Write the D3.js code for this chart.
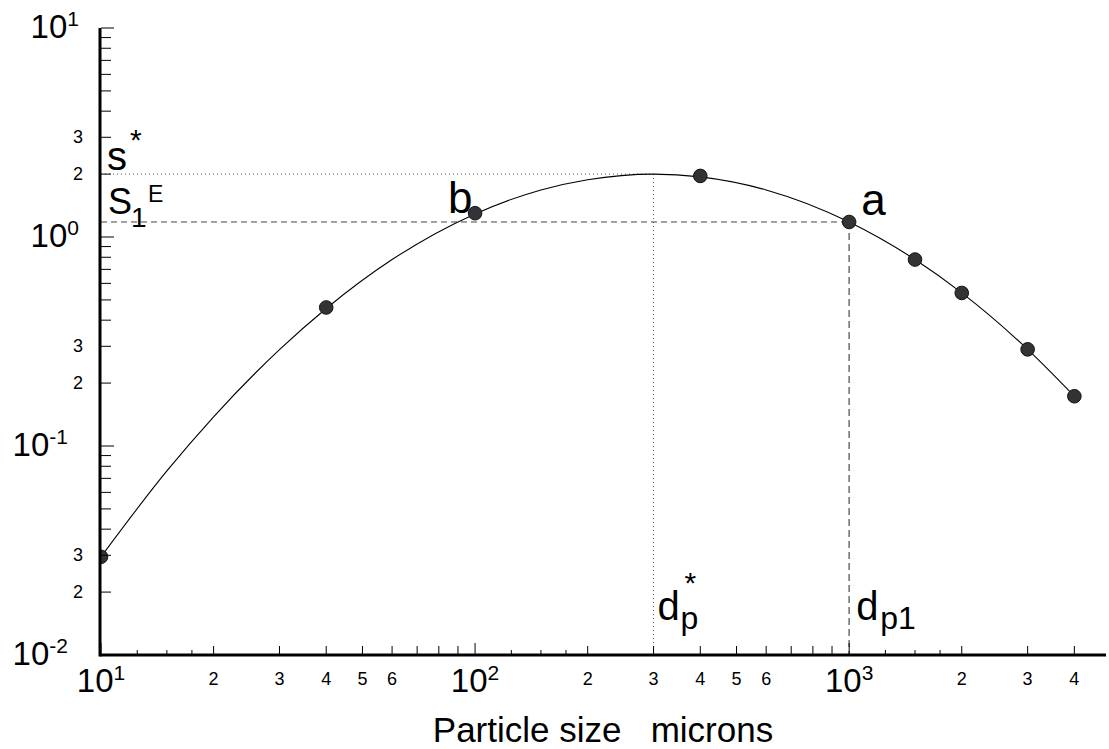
<!DOCTYPE html>
<html>
<head>
<meta charset="utf-8">
<script src="https://cdn.jsdelivr.net/npm/d3@7"></script>
<style>
  body { margin: 0; background: #fff; }
  svg { font-family: "Liberation Sans", Arial, sans-serif; }
</style>
</head>
<body>
<div id="chart"></div>
<script>
// measured points (particle size in microns, value)
var sizes = [10, 40, 100, 400, 1000, 1500, 2000, 3000, 4000];
var measured = [0.0295, 0.46, 1.30, 1.96, 1.18, 0.78, 0.54, 0.29, 0.173];

// fitted curve
var curveSizes = [10, 15, 20, 30, 40, 60, 100, 150, 200, 300, 400, 600, 1000, 1500, 2000, 3000, 4000];
var curveValues = [0.0295, 0.076, 0.138, 0.289, 0.455, 0.78, 1.29, 1.68, 1.88, 2.0, 1.94, 1.68, 1.18, 0.78, 0.54, 0.29, 0.173];

// reference levels
var sStar = 2.0, s1E = 1.18, dpStar = 300, dp1 = 1000;

// ticks
var xMajor = [10, 100, 1000];
var xMinor = [20, 30, 40, 50, 60, 70, 80, 90, 200, 300, 400, 500, 600, 700, 800, 900, 2000, 3000, 4000];
var xSmall = [12.5, 15, 17.5, 125, 150, 175, 1250, 1500, 1750];
var xMinorLabels = [20, 30, 40, 50, 60, 200, 300, 400, 500, 600, 2000, 3000, 4000];
var yMajor = [0.01, 0.1, 1, 10];
var yMinor = [];
[0.01, 0.1, 1].forEach(function(d) { for (var k = 2; k <= 9; k++) yMinor.push(d * k); });
var yMinorLabels = [0.02, 0.03, 0.2, 0.3, 2, 3];

var W = 1109, H = 749;
var svg = d3.select("#chart").append("svg").attr("width", W).attr("height", H);

var x = d3.scaleLog().domain([10, 4860]).range([101, 1106]);
var y = d3.scaleLog().domain([0.01, 10]).range([655, 28]);

function lead(v) { return Math.round(v / Math.pow(10, Math.floor(Math.log10(v) + 1e-9))); }
function expo(v) { return Math.round(Math.log10(v)); }

svg.append("defs").append("clipPath").attr("id", "plot")
  .append("rect").attr("x", 101).attr("y", 0).attr("width", W - 101).attr("height", 654);

var g = svg.append("g");

// reference lines
g.append("line")
  .attr("x1", x(10)).attr("x2", x(dpStar)).attr("y1", y(sStar)).attr("y2", y(sStar))
  .attr("stroke", "#555").attr("stroke-width", 1).attr("stroke-dasharray", "1,3");
g.append("line")
  .attr("x1", x(dpStar)).attr("x2", x(dpStar)).attr("y1", y(sStar)).attr("y2", y(0.01))
  .attr("stroke", "#555").attr("stroke-width", 1).attr("stroke-dasharray", "1,3");
g.append("line")
  .attr("x1", x(10)).attr("x2", x(dp1)).attr("y1", y(s1E)).attr("y2", y(s1E))
  .attr("stroke", "#444").attr("stroke-width", 1).attr("stroke-dasharray", "6,4");
g.append("line")
  .attr("x1", x(dp1)).attr("x2", x(dp1)).attr("y1", y(s1E)).attr("y2", y(0.01))
  .attr("stroke", "#777").attr("stroke-width", 1.6).attr("stroke-dasharray", "7,4");

// curve
var line = d3.line()
  .x(function(d) { return x(d[0]); })
  .y(function(d) { return y(d[1]); })
  .curve(d3.curveMonotoneX);
g.append("path")
  .datum(d3.zip(curveSizes, curveValues))
  .attr("d", line)
  .attr("fill", "none").attr("stroke", "#000").attr("stroke-width", 1.1);

// markers
g.append("g").attr("clip-path", "url(#plot)")
  .selectAll("circle")
  .data(d3.zip(sizes, measured))
  .enter().append("circle")
  .attr("cx", function(d) { return x(d[0]); })
  .attr("cy", function(d) { return y(d[1]); })
  .attr("r", 6.8)
  .attr("fill", "#333").attr("stroke", "#111").attr("stroke-width", 1);

// x axis ticks
var ax = svg.append("g");
function xTicks(vals, len) {
  ax.selectAll(null).data(vals).enter().append("line")
    .attr("x1", function(d) { return x(d); }).attr("x2", function(d) { return x(d); })
    .attr("y1", y(0.01)).attr("y2", y(0.01) - len)
    .attr("stroke", "#000").attr("stroke-width", 1);
}
xTicks(xMajor, 12); xTicks(xMinor, 9); xTicks(xSmall, 5);

ax.selectAll(null).data(xMinorLabels).enter().append("text")
  .attr("x", function(d) { return x(d); }).attr("y", 685)
  .attr("text-anchor", "middle").attr("font-size", 18)
  .text(function(d) { return lead(d); });

var xl = ax.selectAll(null).data(xMajor).enter().append("text")
  .attr("x", function(d) { return x(d); }).attr("y", 692)
  .attr("text-anchor", "middle").attr("font-size", 33);
xl.append("tspan").text("10");
xl.append("tspan").attr("font-size", 21).attr("dy", -12).text(function(d) { return expo(d); });

// y axis ticks
function yTicks(vals, len) {
  ax.selectAll(null).data(vals).enter().append("line")
    .attr("y1", function(d) { return y(d); }).attr("y2", function(d) { return y(d); })
    .attr("x1", x(10)).attr("x2", x(10) + len)
    .attr("stroke", "#000").attr("stroke-width", 1);
}
yTicks(yMajor, 13); yTicks(yMinor, 10);

ax.selectAll(null).data(yMinorLabels).enter().append("text")
  .attr("x", 83).attr("y", function(d) { return y(d) + 6; })
  .attr("text-anchor", "end").attr("font-size", 18)
  .text(function(d) { return lead(d); });

var yl = ax.selectAll(null).data(yMajor).enter().append("text")
  .attr("x", function(d) { return expo(d) < 0 ? 68 : 79; })
  .attr("y", function(d) { return y(d) + 10; })
  .attr("text-anchor", "end").attr("font-size", 33);
yl.append("tspan").text("10");
yl.append("tspan").attr("font-size", 21).attr("dy", -12).text(function(d) { return expo(d); });

// axis lines
ax.append("line").attr("x1", 100).attr("x2", 1106).attr("y1", 655).attr("y2", 655)
  .attr("stroke", "#000").attr("stroke-width", 3);
ax.append("line").attr("x1", 100).attr("x2", 100).attr("y1", 28).attr("y2", 656.5)
  .attr("stroke", "#000").attr("stroke-width", 3);

// axis title
svg.append("text").attr("x", 603).attr("y", 742)
  .attr("text-anchor", "middle").attr("font-size", 35)
  .style("white-space", "pre")
  .text("Particle size   microns");

// annotations
var an = svg.append("g").attr("fill", "#000");
an.append("text").attr("x", 107).attr("y", y(sStar) - 4).attr("font-size", 40).text("s");
an.append("text").attr("x", 130).attr("y", y(sStar) - 24).attr("font-size", 30).text("*");

an.append("text").attr("x", 108).attr("y", y(s1E) - 8).attr("font-size", 36).text("S");
an.append("text").attr("x", 131).attr("y", y(s1E) + 5).attr("font-size", 28).text("1");
an.append("text").attr("x", 148).attr("y", y(s1E) - 20).attr("font-size", 23).text("E");

an.append("text").attr("x", x(100) - 27).attr("y", y(measured[2])).attr("font-size", 44).text("b");
an.append("text").attr("x", x(dp1) + 12).attr("y", y(s1E) - 7).attr("font-size", 44).text("a");

an.append("text").attr("x", x(dpStar) + 4).attr("y", 620).attr("font-size", 40).text("d");
an.append("text").attr("x", x(dpStar) + 27).attr("y", 629).attr("font-size", 32).text("p");
an.append("text").attr("x", x(dpStar) + 31).attr("y", 593).attr("font-size", 30).text("*");

an.append("text").attr("x", x(dp1) + 7).attr("y", 620).attr("font-size", 40).text("d");
an.append("text").attr("x", x(dp1) + 31).attr("y", 629).attr("font-size", 32).text("p1");
</script>
</body>
</html>
